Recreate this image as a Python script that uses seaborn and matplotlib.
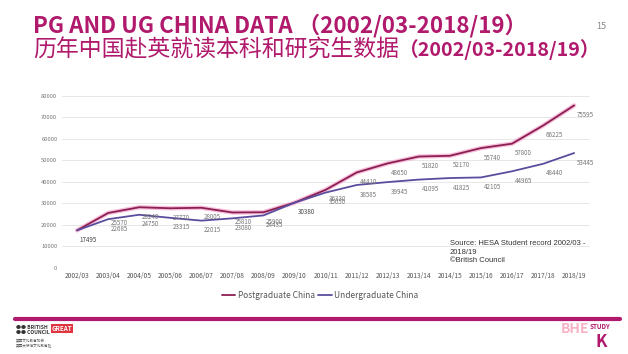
import pandas as pd
import matplotlib.pyplot as plt
import seaborn as sns

years = ["2002/03", "2003/04", "2004/05", "2005/06", "2006/07", "2007/08", "2008/09",
         "2009/10", "2010/11", "2011/12", "2012/13", "2013/14", "2014/15", "2015/16",
         "2016/17", "2017/18", "2018/19"]
postgraduate = [17495, 25570, 28240, 27770, 28005, 25810, 25900, 30380, 36330, 44410,
                48650, 51820, 52170, 55740, 57800, 66225, 75595]
undergraduate = [17495, 22685, 24750, 23315, 22015, 23080, 24435, 30380, 35050, 38585,
                 39945, 41095, 41825, 42105, 44965, 48440, 53445]
y_ticks = [0, 10000, 20000, 30000, 40000, 50000, 60000, 70000, 80000]

df = pd.DataFrame({"year": years * 2,
                   "students": postgraduate + undergraduate,
                   "series": ["Postgraduate China"] * len(years) + ["Undergraduate China"] * len(years)})
df["x"] = list(range(len(years))) * 2

sns.set_style("white")
plt.rcParams["font.family"] = ["Noto Sans CJK SC", "DejaVu Sans"]

magenta = "#b0196c"
pg_color = "#8c1f52"
ug_color = "#5a4d9e"

fig = plt.figure(figsize=(6.28, 3.54), dpi=100)
ax = fig.add_axes([0.098, 0.243, 0.841, 0.486])

# pink glow under the postgraduate line
ax.plot(range(len(years)), postgraduate, color="#f4a6cf", lw=3.2, alpha=0.7, zorder=1)
sns.lineplot(data=df, x="x", y="students", hue="series",
             palette={"Postgraduate China": pg_color, "Undergraduate China": ug_color},
             lw=1.3, ax=ax, zorder=2)

for i, v in enumerate(postgraduate):
    if i in (0, 7):
        continue
    ax.annotate(str(v), (i, v), xytext=(2, -4), textcoords="offset points",
                fontsize=4.5, color="#777777", ha="left", va="top")
for i, v in enumerate(undergraduate):
    ax.annotate(str(v), (i, v), xytext=(2, -4), textcoords="offset points",
                fontsize=4.5, color="#777777" if i not in (0, 7) else "#444444",
                ha="left", va="top")

ax.set_xlim(-0.5, len(years) - 0.5)
ax.set_ylim(0, 80000)
ax.set_xticks(range(len(years)))
ax.set_xticklabels(years, fontsize=4.8, color="#555555")
ax.set_yticks(y_ticks)
ax.set_yticklabels([str(t) for t in y_ticks], fontsize=4.2, color="#777777")
ax.tick_params(axis="both", length=0, pad=3)
ax.grid(axis="y", color="#e3e3e3", lw=0.6)
for s in ax.spines.values():
    s.set_visible(False)
ax.set_xlabel("")
ax.set_ylabel("")

ax.legend(loc="upper center", bbox_to_anchor=(0.49, -0.09), ncol=2, frameon=False,
          fontsize=6, handlelength=1.6, columnspacing=0.4, handletextpad=0.3,
          labelcolor="#555555")

ax.text(0.735, 0.16, "Source: HESA Student record 2002/03 -\n2018/19\n©British Council",
        transform=ax.transAxes, fontsize=5.5, color="#333333", va="top", ha="left",
        family=["Liberation Sans", "DejaVu Sans"], linespacing=1.3)

# slide title
fig.text(0.053, 0.929, "PG AND UG CHINA DATA （2002/03-2018/19）", fontsize=16.1,
         fontweight="bold", color=magenta, va="center", ha="left")
cn = fig.text(0.053, 0.859, "历年中国赴英就读本科和研究生数据", fontsize=16.5, color=magenta,
              va="center", ha="left")
ax.annotate("（2002/03-2018/19）", xy=(1, 0.5), xycoords=cn, fontsize=14.2,
            fontweight="bold", color=magenta, va="center", ha="left", annotation_clip=False)
fig.text(0.958, 0.925, "15", fontsize=6.5, color="#888888", va="center", ha="center")

# footer bar and logos
fig.add_artist(plt.Line2D([0.024, 0.988], [0.1, 0.1], color=magenta, lw=3,
                          transform=fig.transFigure))
fig.text(0.026, 0.068, "●● BRITISH\n●● COUNCIL", fontsize=3.6, color="#333333",
         va="center", ha="left", linespacing=1.0, fontweight="bold")
fig.text(0.082, 0.073, "GREAT", fontsize=4.5, color="white", va="center", ha="left",
         fontweight="bold", bbox=dict(boxstyle="square,pad=0.15", fc="#e0343f", ec="none"))
fig.text(0.026, 0.03, "英国文化教育协会\n英国大使馆文化教育处", fontsize=2.6, color="#555555",
         va="center", ha="left", linespacing=1.0)
fig.text(0.893, 0.072, "BHE", fontsize=10, color="#f4a0b8", va="center", ha="left",
         fontweight="bold", alpha=0.8)
fig.text(0.972, 0.078, "STUDY", fontsize=4.5, color=magenta, va="center", ha="right",
         fontweight="bold")
fig.text(0.948, 0.035, "K", fontsize=12, color=magenta, va="center", ha="left",
         fontweight="bold")

fig.savefig("out.png", dpi=100)
